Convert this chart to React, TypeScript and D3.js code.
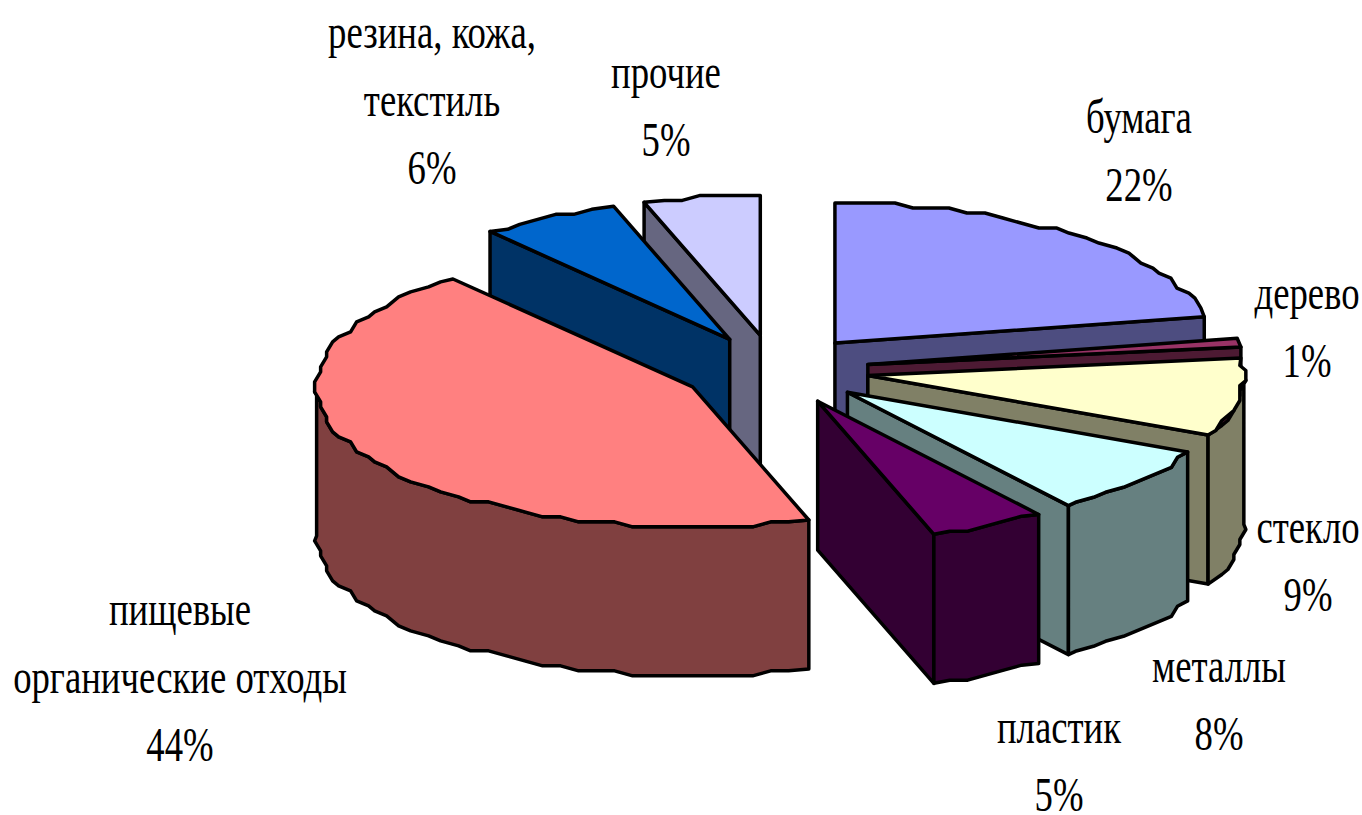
// App.tsx
import React from 'react';
import * as d3 from 'd3';

const categories = [
  ['бумага'],
  ['дерево'],
  ['стекло'],
  ['металлы'],
  ['пластик'],
  ['пищевые', 'органические отходы'],
  ['резина, кожа,', 'текстиль'],
  ['прочие'],
];
const values = [22, 1, 9, 8, 5, 44, 6, 5];
const topColors = ['#9999ff', '#993366', '#ffffcc', '#ccffff', '#660066', '#ff8080', '#0066cc', '#ccccff'];
const sideColors = ['#4d4d80', '#4d1a33', '#808066', '#668080', '#330033', '#804040', '#003366', '#666680'];

// label centre x and the baseline of the first line
const labelX = [1139, 1307, 1308, 1219, 1059, 180, 432, 666];
const labelY = [133, 309, 543, 682, 743, 625, 48, 88];

// back slices first, so the front ones cover them
const drawOrder = [7, 6, 5, 0, 1, 2, 3, 4];

const width = 1362;
const height = 815;
const cx = 775;
const cy = 370;
const rx = 376;
const ry = 140;
const depth = 149;
const explode = 0.25;
const gridX = 6;
const gridY = 5;
const sampleStep = (3 * Math.PI) / 180;
const lineGap = 68;
const fontSize = 48;
const textSqueeze = 0.765;

const xScale = d3.scaleLinear().domain([-1, 1]).range([cx - rx, cx + rx]);
const yScale = d3.scaleLinear().domain([-1, 1]).range([cy - ry, cy + ry]);
const toLine = d3.line();

const slices = d3.pie<number>().sort(null).value((d) => d)(values);

const App = () => {
  const marks = drawOrder.map((i) => {
    const { startAngle, endAngle } = slices[i];
    const mid = d3.pointRadial((startAngle + endAngle) / 2, explode);
    const shiftX = xScale(mid[0]) - cx;
    const shiftY = yScale(mid[1]) - cy;
    const place = (a: number, snap = false): [number, number] => {
      const [ux, uy] = d3.pointRadial(a, 1);
      let px = xScale(ux);
      let py = yScale(uy);
      // the source was a coarse metafile, its arcs sit on a rough grid
      if (snap) {
        px = cx + Math.round((px - cx) / gridX) * gridX;
        py = cy + Math.round((py - cy) / gridY) * gridY;
      }
      return [px + shiftX, py + shiftY];
    };
    const apex: [number, number] = [cx + shiftX, cy + shiftY];

    const arcAngles = d3.range(startAngle + sampleStep, endAngle - sampleStep / 2, sampleStep);
    const arcPoint = (a: number) => place(a, true);
    const start = place(startAngle);
    const end = place(endAngle);
    const arc = [start, ...arcAngles.map(arcPoint), end];
    const down = (p: [number, number]): [number, number] => [p[0], p[1] + depth];
    const wall = (pts: [number, number][]) => toLine([...pts, ...pts.slice().reverse().map(down)]) + 'Z';

    const walls: string[] = [];
    if (startAngle > Math.PI) walls.push(wall([apex, start]));
    if (endAngle < Math.PI) walls.push(wall([end, apex]));
    const lo = Math.max(startAngle, Math.PI / 2);
    const hi = Math.min(endAngle, (3 * Math.PI) / 2);
    if (hi > lo) {
      const front = d3.range(lo + sampleStep, hi - sampleStep / 2, sampleStep);
      const frontArc = [place(lo), ...front.map(arcPoint), place(hi)];
      walls.push(wall(frontArc));
    }

    return { i, walls, top: toLine([apex, ...arc]) + 'Z' };
  });

  return (
    <svg
      width={width}
      height={height}
      viewBox={`0 0 ${width} ${height}`}
      style={{ position: 'absolute', left: 0, top: 0, background: '#fff' }}
    >
      {marks.map((m) => (
        <g key={m.i} stroke="#000" strokeWidth={3.5} strokeLinejoin="round">
          {m.walls.map((d, k) => (
            <path key={k} d={d} fill={sideColors[m.i]} />
          ))}
          <path d={m.top} fill={topColors[m.i]} />
        </g>
      ))}
      <g fontFamily="'Liberation Serif', serif" fontSize={fontSize} textAnchor="middle" fill="#000">
        {categories.map((lines, i) =>
          [...lines, `${values[i]}%`].map((t, k) => (
            <text
              key={`${i}-${k}`}
              transform={`translate(${labelX[i]},${labelY[i] + k * lineGap}) scale(${textSqueeze},1)`}
            >
              {t}
            </text>
          )),
        )}
      </g>
    </svg>
  );
};

export default App;
